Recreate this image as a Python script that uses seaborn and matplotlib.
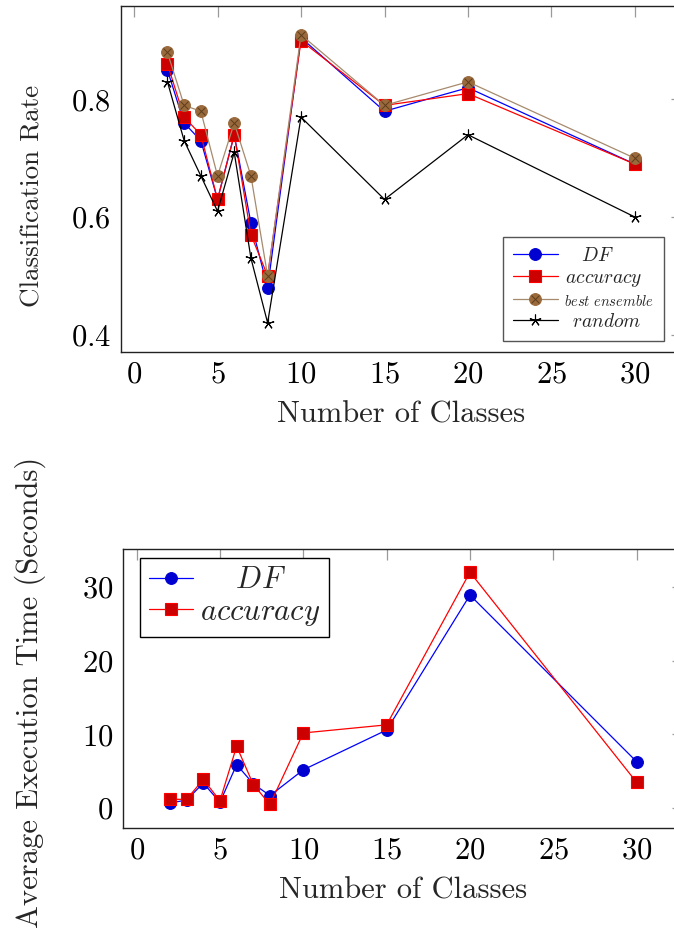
import matplotlib
matplotlib.use("Agg")
import matplotlib.pyplot as plt
import seaborn as sns
from matplotlib.legend_handler import HandlerTuple

# number of classes on the x axis
classes = [2, 3, 4, 5, 6, 7, 8, 10, 15, 20, 30]

# top panel: classification rate
rate_df = [0.85, 0.76, 0.73, 0.63, 0.74, 0.59, 0.48, 0.905, 0.78, 0.82, 0.69]
rate_acc = [0.86, 0.77, 0.74, 0.63, 0.74, 0.57, 0.50, 0.90, 0.79, 0.81, 0.69]
rate_best = [0.88, 0.79, 0.78, 0.67, 0.76, 0.67, 0.50, 0.91, 0.79, 0.83, 0.70]
rate_random = [0.83, 0.73, 0.67, 0.61, 0.71, 0.53, 0.42, 0.77, 0.63, 0.74, 0.60]

# bottom panel: average execution time (seconds)
time_df = [0.7, 1.1, 3.4, 0.8, 5.9, 3.3, 1.7, 5.2, 10.6, 28.9, 6.3]
time_acc = [1.2, 1.2, 3.9, 1.0, 8.4, 3.2, 0.5, 10.2, 11.3, 32.0, 3.5]

xticks = [0, 5, 10, 15, 20, 25, 30]
yticks_rate = [0.4, 0.6, 0.8]
yticks_time = [0, 10, 20, 30]

sns.set_theme(style="white")
plt.rcParams["font.family"] = "serif"
plt.rcParams["font.serif"] = ["cmr10"]
plt.rcParams["mathtext.fontset"] = "cm"
plt.rcParams["axes.formatter.use_mathtext"] = True

BLUE, BLUE_F = "#0000ff", "#0000d0"
RED, RED_F = "#ff0000", "#cc0000"
BROWN_L, BROWN_F, BROWN_X = "#a68a6d", "#9a6a3c", "#5e3d1c"

W, H = 674, 933
fig = plt.figure(figsize=(W / 100, H / 100), dpi=100)
ax1 = fig.add_axes([120.7 / W, 1 - 351.7 / H, 561 / W, (351.7 - 6) / H])
ax2 = fig.add_axes([123.3 / W, 1 - 827.7 / H, 560 / W, (827.7 - 549) / H])

lw = 0.9
ms = 8.5

# ---- top panel
sns.lineplot(x=classes, y=rate_df, ax=ax1, color=BLUE, lw=lw, marker="o", ms=ms,
             mfc=BLUE_F, mec=BLUE_F)
sns.lineplot(x=classes, y=rate_acc, ax=ax1, color=RED, lw=lw, marker="s", ms=ms,
             mfc=RED_F, mec=RED, mew=0.8)
sns.lineplot(x=classes, y=rate_best, ax=ax1, color=BROWN_L, lw=lw, marker="o", ms=ms,
             mfc=BROWN_F, mec=BROWN_F)
sns.lineplot(x=classes, y=rate_best, ax=ax1, linestyle="none", marker="x", ms=5.6,
             mec=BROWN_X, mew=0.7)
sns.lineplot(x=classes, y=rate_random, ax=ax1, color="black", lw=lw, marker=(5, 2, 0),
             ms=ms, mec="black", mew=0.8)

lines = ax1.get_lines()
h_df, h_acc, h_best, h_x, h_rand = lines[0], lines[1], lines[2], lines[3], lines[4]
labels_top = [r"$\hspace{1.0}DF$", r"$\hspace{0.08}accuracy$",
              r"$best\ ensemble\hspace{0.45}$", r"$\hspace{0.5}random$"]
leg1 = ax1.legend([h_df, h_acc, (h_best, h_x), h_rand], labels_top,
                  handler_map={tuple: HandlerTuple(ndivide=1, pad=0)},
                  loc="lower right", bbox_to_anchor=(664 / W, 1 - 340.7 / H),
                  bbox_transform=fig.transFigure, borderaxespad=0,
                  fontsize=14, handlelength=2.3, handletextpad=0.33,
                  labelspacing=0.2, borderpad=0.5, fancybox=False, framealpha=1)
leg1.get_frame().set_edgecolor("#555555")
leg1.get_frame().set_linewidth(1.0)
leg1.get_texts()[2].set_fontsize(10.5)

pad = 0.1 * (max(rate_df + rate_acc + rate_best + rate_random)
             - min(rate_df + rate_acc + rate_best + rate_random))
ax1.set_ylim(min(rate_random) - pad, max(rate_best) + pad)
ax1.set_yticks(yticks_rate)
ax1.set_ylabel("Classification Rate", fontsize=19.5)
ax1.yaxis.set_label_coords(-0.135, 0.45)
ax1.set_xlabel("Number of Classes", fontsize=22, labelpad=8.5)

# ---- bottom panel
sns.lineplot(x=classes, y=time_df, ax=ax2, color=BLUE, lw=lw, marker="o", ms=ms,
             mfc=BLUE_F, mec=BLUE_F, label=r"$\hspace{1.34}DF$")
sns.lineplot(x=classes, y=time_acc, ax=ax2, color=RED, lw=lw, marker="s", ms=ms,
             mfc=RED_F, mec=RED, mew=0.8, label=r"$accuracy\hspace{0.4}$")
leg2 = ax2.legend(loc="upper left", bbox_to_anchor=(140 / W, 1 - 557.7 / H),
                  bbox_transform=fig.transFigure, borderaxespad=0,
                  fontsize=22, handlelength=1.45, handletextpad=0.2,
                  labelspacing=0.13, borderpad=0.3, fancybox=False, framealpha=1)
leg2.get_frame().set_edgecolor("black")
leg2.get_frame().set_linewidth(1.0)

pad = 0.1 * (max(time_acc) - min(time_acc))
ax2.set_ylim(min(time_acc) - pad, max(time_acc) + pad)
ax2.set_yticks(yticks_time)
ax2.set_ylabel("Average Execution Time (Seconds)", fontsize=22)
ax2.yaxis.set_label_coords(-0.138, 0.487)
ax2.set_xlabel("Number of Classes", fontsize=22, labelpad=9)

for ax in (ax1, ax2):
    ax.set_xlim(-0.8, 32.8)
    ax.set_xticks(xticks)
    ax.tick_params(direction="in", length=8, width=0.9, color="#9a9a9a",
                   top=True, right=True, labelsize=22, pad=7, labelcolor="black")
    for s in ax.spines.values():
        s.set_color("#222222")
        s.set_linewidth(1.0)

fig.savefig("out.png", dpi=100)
